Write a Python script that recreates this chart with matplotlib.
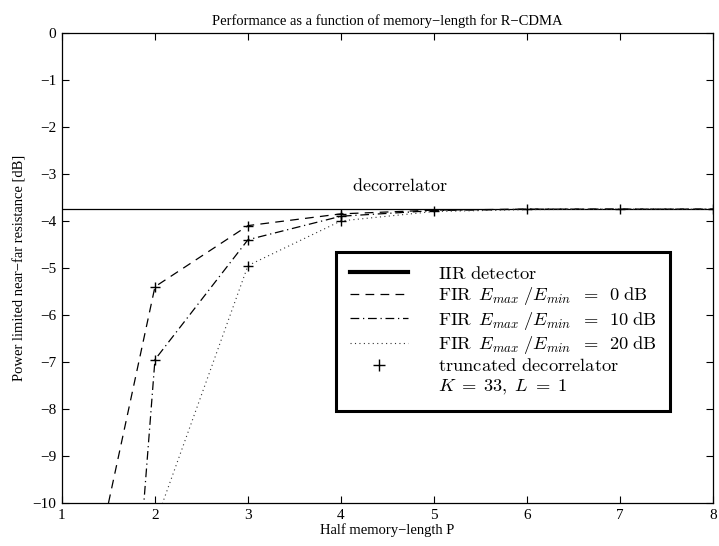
import matplotlib
matplotlib.use("Agg")
import matplotlib.pyplot as plt
from matplotlib.lines import Line2D

# half memory-length P
P = [1, 2, 3, 4, 5, 6, 7, 8]

# power limited near-far resistance [dB] of the FIR detectors
fir_0db = [-14.6, -5.4, -4.1, -3.85, -3.77, -3.75, -3.75, -3.75]
fir_10db = [-32.4, -6.95, -4.4, -3.9, -3.78, -3.75, -3.75, -3.75]
fir_20db = [-40.0, -10.45, -4.95, -4.0, -3.8, -3.76, -3.75, -3.75]

# truncated decorrelator
trunc_P = [2, 2, 3, 3, 3, 4, 4, 4, 5, 6, 7, 8]
trunc_val = [-5.4, -6.95, -4.1, -4.4, -4.95, -3.85, -3.9, -4.0, -3.78, -3.75, -3.75, -3.75]

decorr = -3.75

plt.rcParams['font.family'] = ['Liberation Serif', 'DejaVu Serif']
plt.rcParams['mathtext.fontset'] = 'cm'

fig = plt.figure(figsize=(7.19, 5.46), dpi=100)
ax = fig.add_axes([0.0862, 0.0788, 0.9054, 0.861])

dashed = (0, (7, 5))
dashdot = (0, (7, 3, 1, 3))
dotted = (0, (1, 3))

ax.axhline(decorr, color='black', lw=0.9)
ax.plot(P, fir_0db, color='black', lw=0.9, ls=dashed)
ax.plot(P, fir_10db, color='black', lw=0.9, ls=dashdot)
ax.plot(P, fir_20db, color='#333333', lw=0.8, ls=dotted)
ax.plot(trunc_P, trunc_val, ls='none', marker='+', color='black', ms=7, mew=1)

ax.text(4.63, decorr + 0.3, r'$\mathrm{decorrelator}$', ha='center', va='bottom', fontsize=13)

ax.set_xlim(1, 8)
ax.set_ylim(-10, 0)
ax.set_xticks(range(1, 9))
ax.set_yticks(range(-10, 1))
ax.set_yticklabels(['\u2212%d' % -v if v < 0 else '0' for v in range(-10, 1)])
ax.tick_params(direction='in', top=True, right=True, labelsize=11, length=5, pad=4)
for s in ax.spines.values():
    s.set_linewidth(0.9)

ax.set_title('Performance as a function of memory\u2212length for R\u2212CDMA', fontsize=10.5, pad=6)
ax.set_xlabel('Half memory\u2212length P', fontsize=10.5, labelpad=1)
ax.set_ylabel('Power limited near\u2212far resistance [dB]', fontsize=10.5, labelpad=4)

handles = [
    Line2D([], [], color='black', lw=3),
    Line2D([], [], color='black', lw=0.9, ls=dashed),
    Line2D([], [], color='black', lw=0.9, ls=dashdot),
    Line2D([], [], color='#333333', lw=0.8, ls=dotted),
    Line2D([], [], color='black', ls='none', marker='+', ms=9),
    Line2D([], [], color='none'),
]
labels = [
    r'$\mathrm{IIR\ detector}$',
    r'$\mathrm{FIR}\ \,E_{max}\;/E_{min}\;\;=\;\;0\;\mathrm{dB}$',
    r'$\mathrm{FIR}\ \,E_{max}\;/E_{min}\;\;=\;\;10\;\mathrm{dB}$',
    r'$\mathrm{FIR}\ \,E_{max}\;/E_{min}\;\;=\;\;20\;\mathrm{dB}$',
    r'$\mathrm{truncated\ decorrelator}$',
    r'$K\;=\;33,\;L\;=\;1$',
]
leg = ax.legend(handles, labels, loc='upper left', bbox_to_anchor=(0.421, 0.534),
                fontsize=13.3, frameon=True, fancybox=False, framealpha=1,
                handlelength=3.15, handletextpad=1.6, borderpad=0.75,
                labelspacing=0.13, borderaxespad=0)
leg.get_frame().set_edgecolor('black')
leg.get_frame().set_linewidth(2.2)

fig.savefig('out.png', dpi=100)
